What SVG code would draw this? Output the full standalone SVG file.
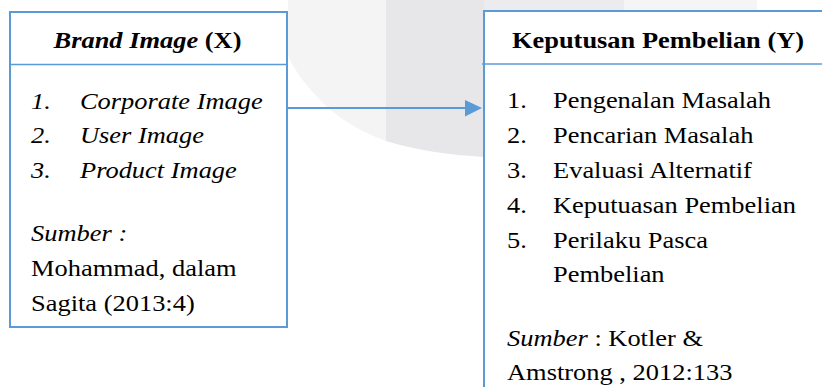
<svg xmlns="http://www.w3.org/2000/svg" width="822" height="387" viewBox="0 0 822 387">
<style>
  .box{fill:#ffffff;stroke:#5b9bd5;stroke-width:2}
  .div{stroke:#5b9bd5;stroke-width:1.5}
  .conn{stroke:#5b9bd5;stroke-width:2.2;fill:none}
  .ah{fill:#5b9bd5}
  text{font-family:"Liberation Serif","Times New Roman",serif;font-size:23.5px;fill:#000}
  .b{font-weight:bold}
  .i{font-style:italic}
  .c{text-anchor:middle}
</style>
<rect width="822" height="387" fill="#ffffff"/>
<g id="watermark">
  <path d="M288 0 L386 0 L386 141 C360 132 335 116 318 98 C303 82 293 68 288 55 Z" fill="#f4f4f5"/>
  <path d="M386 0 L484 0 L484 157 C450 155 415 150 386 141 Z" fill="#e7e7ea"/>
  <rect x="484" y="0" width="140" height="11" fill="#ececee"/>
  <rect x="624" y="0" width="133" height="11" fill="#f5f5f6"/>
</g>
<g id="connectors">
  <line class="conn" x1="287" y1="108" x2="467" y2="108"/>
  <polygon class="ah" points="465,100 482,108 465,116.5"/>
</g>
<g id="node-x">
  <rect class="box" x="10" y="12" width="277" height="315"/>
  <line class="div" x1="10" y1="64.5" x2="287" y2="64.5"/>
  <g transform="scale(1.125 1)">
    <text class="b c" x="131.1" y="48"><tspan class="i">Brand Image</tspan> (X)</text>
    <text class="i" x="27.6" y="109">1.</text><text class="i" x="71.1" y="109">Corporate Image</text>
    <text class="i" x="27.6" y="143.5">2.</text><text class="i" x="71.1" y="143.5">User Image</text>
    <text class="i" x="27.6" y="178">3.</text><text class="i" x="71.1" y="178">Product Image</text>
    <text class="i" x="27.6" y="241">Sumber :</text>
    <text x="27.6" y="276.5">Mohammad, dalam</text>
    <text x="27.6" y="311.5">Sagita (2013:4)</text>
  </g>
</g>
<g id="node-y">
  <rect class="box" x="484" y="11" width="360" height="400"/>
  <line class="div" x1="482" y1="64" x2="822" y2="64"/>
  <g transform="scale(1.125 1)">
    <text class="b c" x="584.9" y="48">Keputusan Pembelian (Y)</text>
    <text x="450.7" y="108.5">1.</text><text x="491.6" y="108.5">Pengenalan Masalah</text>
    <text x="450.7" y="143.3">2.</text><text x="491.6" y="143.3">Pencarian Masalah</text>
    <text x="450.7" y="178.1">3.</text><text x="491.6" y="178.1">Evaluasi Alternatif</text>
    <text x="450.7" y="212.9">4.</text><text x="491.6" y="212.9">Keputuasan Pembelian</text>
    <text x="450.7" y="247.7">5.</text><text x="491.6" y="247.7">Perilaku Pasca</text>
    <text x="491.6" y="282.5">Pembelian</text>
    <text x="450.7" y="346"><tspan class="i">Sumber</tspan> : Kotler &amp;</text>
    <text x="450.7" y="380.5">Amstrong , 2012:133</text>
  </g>
</g>
</svg>
